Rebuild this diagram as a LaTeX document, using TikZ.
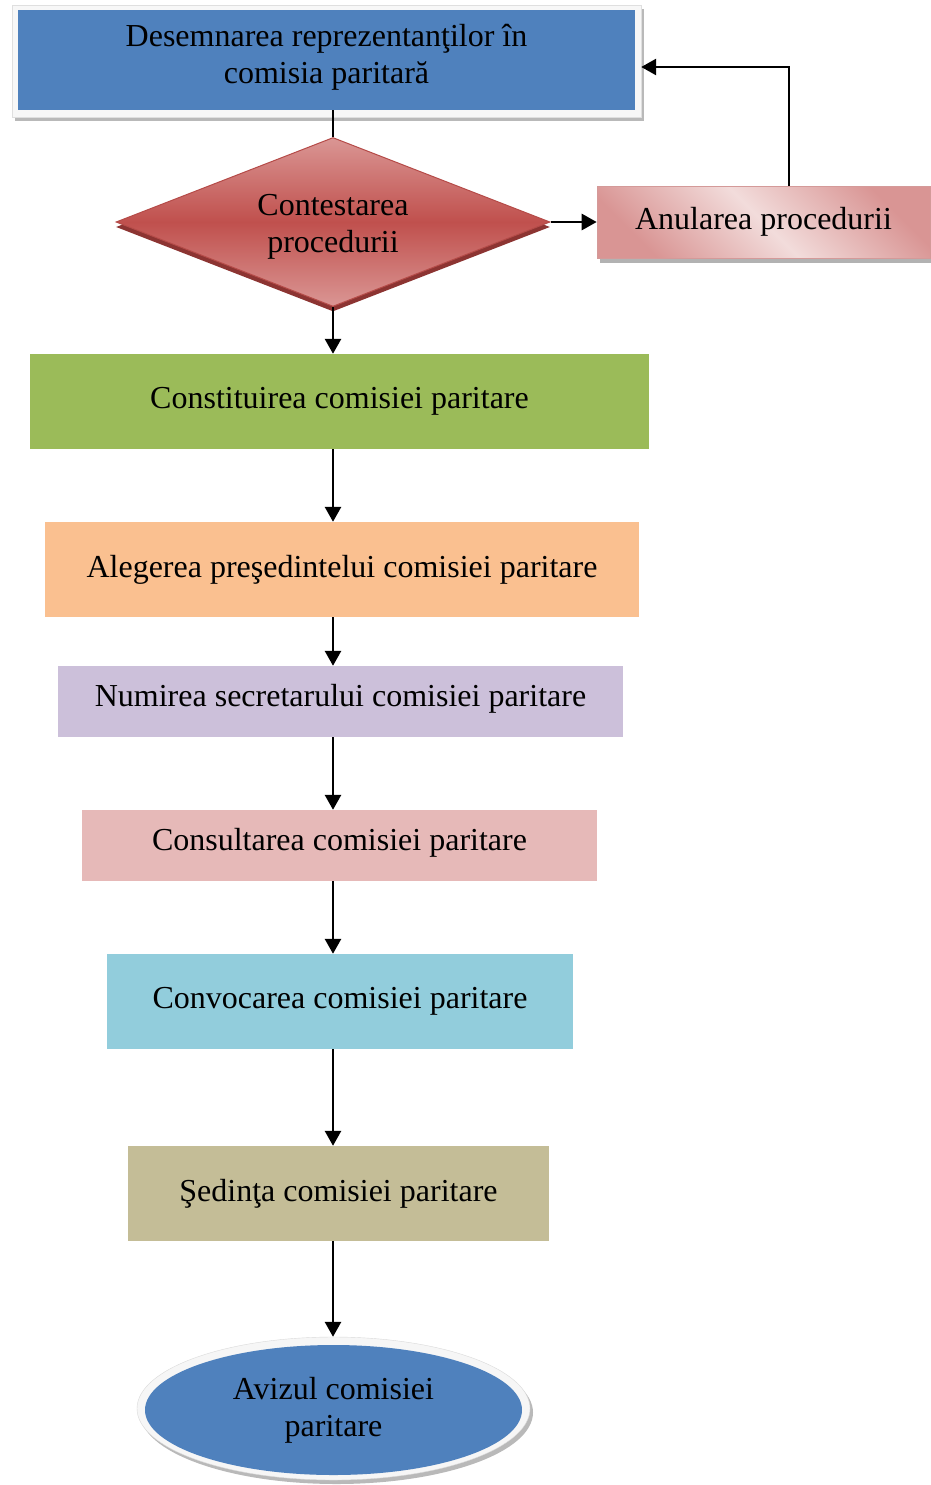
\documentclass[tikz,border=0pt]{standalone}
\usepackage{fontspec}
\setmainfont{Liberation Serif}
\usetikzlibrary{shapes.geometric,shadows,arrows.meta}

\definecolor{blueA}{HTML}{4F81BD}
\definecolor{redM}{HTML}{C0504D}
\definecolor{redL}{HTML}{DA9694}
\definecolor{redB}{HTML}{B54B48}
\definecolor{redD}{HTML}{8C3432}
\definecolor{pinkD}{HTML}{D99594}
\definecolor{pinkL}{HTML}{F2DCDB}
\definecolor{pinkB}{HTML}{D49A99}
\definecolor{greenA}{HTML}{9BBB59}
\definecolor{orangeA}{HTML}{FAC090}
\definecolor{lilacA}{HTML}{CCC0DA}
\definecolor{roseA}{HTML}{E6B9B8}
\definecolor{cyanA}{HTML}{92CDDC}
\definecolor{khakiA}{HTML}{C4BD97}

\begin{document}
\begin{tikzpicture}[x=1pt,y=-1pt,
  every node/.style={font=\fontsize{32}{37}\selectfont, align=center, inner sep=0pt},
  stepbox/.style={rectangle, fill=#1},
  grayshadow/.style={drop shadow={shadow xshift=3pt, shadow yshift=-4pt, fill=gray!55, opacity=1}},
  arr/.style={-{Triangle[length=15pt,width=16pt]}, line width=2.8pt},
  link/.style={line width=2.8pt}]

\useasboundingbox (0,0) rectangle (931,1485);

% vertical axis of the main flow
\coordinate (axis) at (333,0);

% first step: framed blue box
\node[draw=gray!25, fill=gray!6, minimum width=629pt, minimum height=112pt, grayshadow] (topframe) at (326.5,61) {};
\node[stepbox=blueA, minimum width=617pt, minimum height=100pt] (top) at (326.5,60) {};
\node (toptext) at (326.5,57.5) {Desemnarea reprezentanţilor în\\comisia paritară};

% decision
\node[diamond, aspect=2.57, minimum width=434pt, minimum height=169pt,
      draw=redB, line width=1pt, top color=redL, bottom color=redL, middle color=redM,
      drop shadow={shadow xshift=0pt, shadow yshift=-5pt, fill=redD, opacity=1}]
      (dia) at (333,222) {};
\node (diatext) at (333,226.5) {Contestarea\\procedurii};

% cancellation branch
\node[rectangle, draw=pinkB, line width=0.6pt, shading=axis, top color=pinkD, bottom color=pinkD,
      middle color=pinkL, shading angle=-45, minimum width=333pt, minimum height=72pt,
      drop shadow={shadow xshift=3pt, shadow yshift=-5pt, fill=gray!60, opacity=1}]
      (anul) at (763.5,222) {Anularea procedurii};

% main steps
\node[stepbox=greenA, minimum width=619pt, minimum height=95pt] (cons) at (339.5,401.5) {Constituirea comisiei paritare};
\node[stepbox=orangeA, minimum width=594pt, minimum height=95pt] (aleg) at (342,569.5) {Alegerea preşedintelui comisiei paritare};
\node[stepbox=lilacA, minimum width=565pt, minimum height=71pt] (num) at (340.5,701.5) {};
\node (numtext) at (340.5,698.5) {Numirea secretarului comisiei paritare};
\node[stepbox=roseA, minimum width=515pt, minimum height=71pt] (cst) at (339.5,845.5) {};
\node (csttext) at (339.5,842.5) {Consultarea comisiei paritare};
\node[stepbox=cyanA, minimum width=466pt, minimum height=95pt] (conv) at (340,1001.5) {Convocarea comisiei paritare};
\node[stepbox=khakiA, minimum width=421pt, minimum height=95pt] (sed) at (338.5,1193.5) {Şedinţa comisiei paritare};

% final result
\node[ellipse, draw=gray!30, fill=gray!7, minimum width=393pt, minimum height=143pt, grayshadow] (ring) at (333.5,1408.5) {};
\node[ellipse, fill=blueA, minimum width=377pt, minimum height=130pt] (aviz) at (333.5,1410) {Avizul comisiei\\paritare};

% connectors
\draw[link] (top.south -| axis) -- (dia.north);
\draw[arr] (dia.east) -- (anul.west);
\draw[arr] ([xshift=25.5pt]anul.north) |- ([yshift=-6pt]topframe.east);
\draw[arr] (dia.south) -- (cons.north -| axis);
\draw[arr] (cons.south -| axis) -- (aleg.north -| axis);
\draw[arr] (aleg.south -| axis) -- (num.north -| axis);
\draw[arr] (num.south -| axis) -- (cst.north -| axis);
\draw[arr] (cst.south -| axis) -- (conv.north -| axis);
\draw[arr] (conv.south -| axis) -- (sed.north -| axis);
\draw[arr] (sed.south -| axis) -- (ring.north -| axis);
\end{tikzpicture}
\end{document}
